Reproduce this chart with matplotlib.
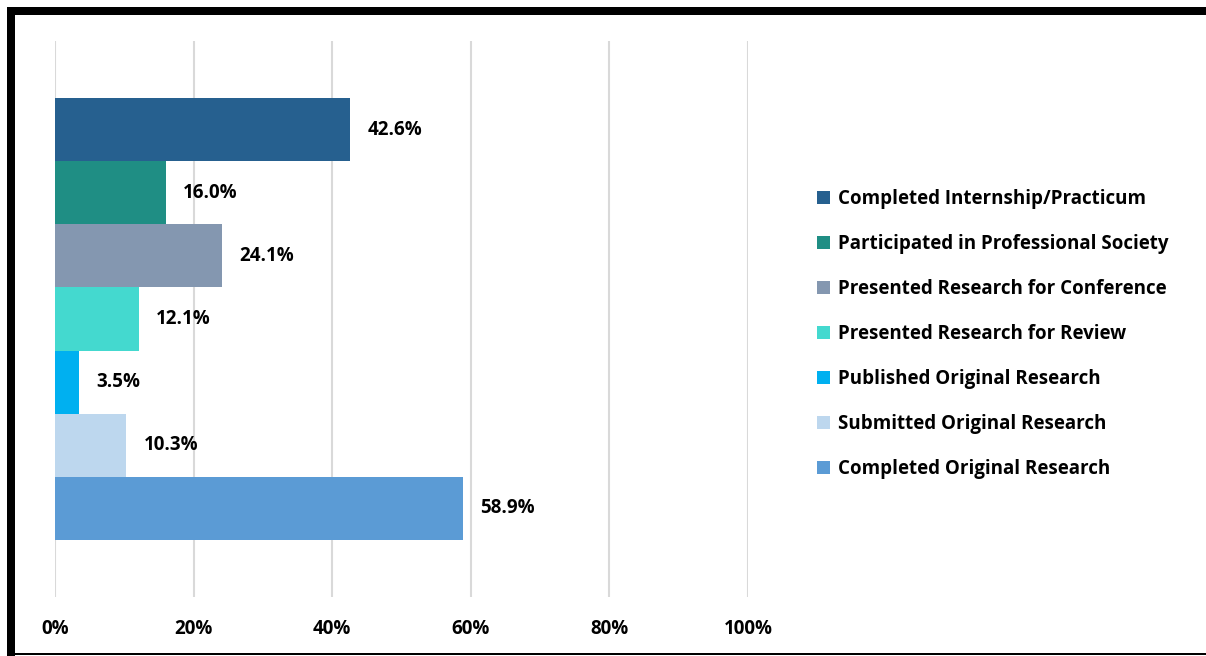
import matplotlib.pyplot as plt
from matplotlib.patches import Patch, Rectangle

plt.rcParams['font.family'] = ['Open Sans', 'DejaVu Sans']
plt.rcParams['font.weight'] = 'bold'

# Data
categories = ['Completed Internship/Practicum', 'Participated in Professional Society',
              'Presented Research for Conference', 'Presented Research for Review',
              'Published Original Research', 'Submitted Original Research',
              'Completed Original Research']
values = [42.6, 16.0, 24.1, 12.1, 3.5, 10.3, 58.9]
colors = ['#26608F', '#1F8E84', '#8497B0', '#44D9CF', '#00B0F0', '#BDD7EE', '#5B9BD5']
xticks = [0, 20, 40, 60, 80, 100]

W, H = 1206, 656
FS = 13.5
fig = plt.figure(figsize=(W / 100, H / 100), dpi=100)
ax = fig.add_axes([55 / W, (H - 597) / H, (748 - 55) / W, (597 - 41) / H])

pos = list(range(len(values)))
ax.barh(pos, values, height=1.0, color=colors, zorder=3)
margin = 57 / 63.1
ax.set_ylim(len(values) - 0.5 + margin, -0.5 - margin)
ax.set_xlim(0, 100)

for p, v in zip(pos, values):
    ax.annotate(f'{v:.1f}%', (v, p), xytext=(17, 0), textcoords='offset pixels',
                va='center', ha='left', fontsize=FS, fontweight='bold')

ax.set_xticks(xticks)
ax.set_xticklabels([f'{t}%' for t in xticks], fontsize=FS, fontweight='bold')
ax.tick_params(axis='x', length=0, pad=16)
ax.set_yticks([])
ax.grid(axis='x', color='#D9D9D9', linewidth=1.5, zorder=0)
for s in ax.spines.values():
    s.set_visible(False)

handles = [Patch(facecolor=c, label=l) for c, l in zip(colors, categories)]
fig.legend(handles=handles, loc='center left', bbox_to_anchor=(800 / W, 1 - 334 / H),
           frameon=False, handlelength=0.7, handleheight=0.7,
           handletextpad=0.4, labelspacing=1.33, prop={'weight': 'bold', 'size': FS})

# black frame of the screenshot
fig.add_artist(Rectangle((7 / W, 0), 8 / W, (H - 7) / H, transform=fig.transFigure,
                         facecolor='black', lw=0))
fig.add_artist(Rectangle((7 / W, (H - 15) / H), 1, 8 / H, transform=fig.transFigure,
                         facecolor='black', lw=0))
fig.add_artist(Rectangle((7 / W, 1 / H), 1, 2 / H, transform=fig.transFigure,
                         facecolor='black', lw=0))

fig.savefig('out.png', dpi=100)
